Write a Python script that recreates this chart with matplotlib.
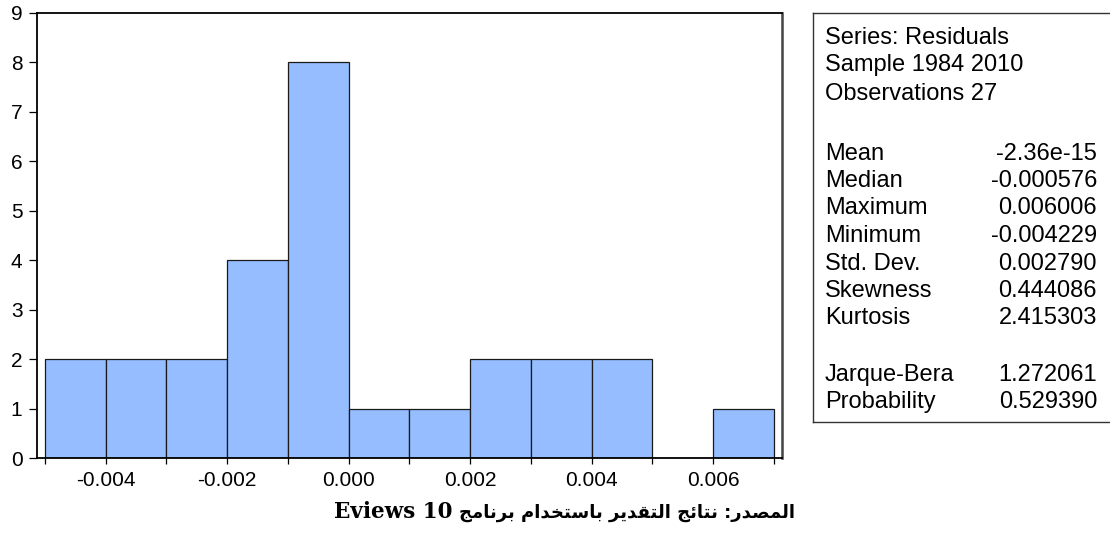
import matplotlib
matplotlib.use("Agg")
import matplotlib.pyplot as plt

# ---- data ----
bin_left = [-0.005, -0.004, -0.003, -0.002, -0.001, 0.000,
            0.001, 0.002, 0.003, 0.004, 0.005, 0.006]
counts = [2, 2, 2, 4, 8, 1, 1, 2, 2, 2, 0, 1]
bin_width = 0.001
xtick_pos = [-0.005, -0.004, -0.003, -0.002, -0.001, 0.000, 0.001,
             0.002, 0.003, 0.004, 0.005, 0.006, 0.007]
xtick_lab = ["", "-0.004", "", "-0.002", "", "0.000", "",
             "0.002", "", "0.004", "", "0.006", ""]
ytick_pos = [0, 1, 2, 3, 4, 5, 6, 7, 8, 9]

header_lines = ["Series: Residuals", "Sample 1984 2010", "Observations 27"]
stat_names = ["Mean", "Median", "Maximum", "Minimum", "Std. Dev.",
              "Skewness", "Kurtosis"]
stat_values = ["-2.36e-15", "-0.000576", "0.006006", "-0.004229",
               "0.002790", "0.444086", "2.415303"]
test_names = ["Jarque-Bera", "Probability"]
test_values = ["1.272061", "0.529390"]

caption_words = ["المصدر:", "نتائج", "التقدير", "باستخدام", "برنامج"]
caption_tail = ["10", "Eviews"]

# ---- minimal Arabic shaping (presentation forms) ----
FORMS = {
    "ا": ("\uFE8D", "\uFE8E"),
    "د": ("\uFEA9", "\uFEAA"),
    "ر": ("\uFEAD", "\uFEAE"),
    "ب": ("\uFE8F", "\uFE90", "\uFE91", "\uFE92"),
    "ت": ("\uFE95", "\uFE96", "\uFE97", "\uFE98"),
    "ج": ("\uFE9D", "\uFE9E", "\uFE9F", "\uFEA0"),
    "خ": ("\uFEA5", "\uFEA6", "\uFEA7", "\uFEA8"),
    "س": ("\uFEB1", "\uFEB2", "\uFEB3", "\uFEB4"),
    "ص": ("\uFEB9", "\uFEBA", "\uFEBB", "\uFEBC"),
    "ق": ("\uFED5", "\uFED6", "\uFED7", "\uFED8"),
    "ل": ("\uFEDD", "\uFEDE", "\uFEDF", "\uFEE0"),
    "م": ("\uFEE1", "\uFEE2", "\uFEE3", "\uFEE4"),
    "ن": ("\uFEE5", "\uFEE6", "\uFEE7", "\uFEE8"),
    "ي": ("\uFEF1", "\uFEF2", "\uFEF3", "\uFEF4"),
    "ئ": ("\uFE89", "\uFE8A", "\uFE8B", "\uFE8C"),
}


def shape_word(w):
    out = []
    for i, c in enumerate(w):
        if c not in FORMS:
            out.append(c)
            continue
        prev = w[i - 1] if i > 0 else None
        nxt = w[i + 1] if i < len(w) - 1 else None
        f = FORMS[c]
        jp = prev in FORMS and len(FORMS[prev]) == 4
        jn = nxt in FORMS and len(f) == 4
        if jp and jn:
            g = f[3]
        elif jp:
            g = f[1]
        elif jn:
            g = f[2]
        else:
            g = f[0]
        out.append(g)
    return "".join(reversed(out))


latin_visual = " ".join(reversed(caption_tail))
arabic_visual = " ".join(shape_word(w) for w in reversed(caption_words))

# ---- figure ----
W, H = 1110, 536
fig = plt.figure(figsize=(W / 100, H / 100), dpi=100)
plt.rcParams["font.family"] = ["Liberation Sans", "DejaVu Sans"]

ax = fig.add_axes([37 / W, 1 - 458 / H, (782 - 37) / W, (458 - 13) / H])
ax.bar(bin_left, counts, width=bin_width, align="edge",
       color="#95BDFF", edgecolor="#1a1a1a", linewidth=0.9, zorder=2)
ax.set_xlim(-0.005131, 0.007133)
ax.set_ylim(0, 9)
ax.set_xticks(xtick_pos)
ax.set_xticklabels(xtick_lab)
ax.set_yticks(ytick_pos)
ax.set_yticklabels([str(v) for v in ytick_pos])
ax.tick_params(axis="x", direction="out", length=4.5, width=0.9,
               pad=5, labelsize=15, colors="black")
ax.tick_params(axis="y", direction="out", length=5.5, width=0.9,
               pad=5, labelsize=15, colors="black")
for side in ["left", "bottom", "top"]:
    ax.spines[side].set_color("black")
    ax.spines[side].set_linewidth(1.3)
ax.spines["right"].set_color("#444444")
ax.spines["right"].set_linewidth(1.8)

# ---- stats box (pixel coordinates) ----
bx = fig.add_axes([813 / W, 1 - 422 / H, (1112 - 813) / W, (422 - 13) / H])
bx.set_xlim(813, 1112)
bx.set_ylim(422, 13)
bx.set_xticks([])
bx.set_yticks([])
for s in bx.spines.values():
    s.set_color("#333333")
    s.set_linewidth(1.0)

fs = 17
header_base = [44, 71.5, 99.5]
stat_base = [160, 187, 214.5, 242, 269.5, 297, 324.5]
test_base = [381, 408]
lx, rx = 825, 1097
for t, y in zip(header_lines, header_base):
    bx.text(lx, y, t, fontsize=fs, va="baseline", ha="left")
for t, v, y in zip(stat_names, stat_values, stat_base):
    bx.text(lx, y, t, fontsize=fs, va="baseline", ha="left")
    bx.text(rx, y, v, fontsize=fs, va="baseline", ha="right")
for t, v, y in zip(test_names, test_values, test_base):
    bx.text(lx, y, t, fontsize=fs, va="baseline", ha="left")
    bx.text(rx, y, v, fontsize=fs, va="baseline", ha="right")

# ---- caption (Arabic part right, Latin part placed just left of it) ----
cap_base = 1 - 518 / H
t_ar = fig.text(795 / W, cap_base, arabic_visual, fontsize=13,
                fontweight="bold", ha="right", va="baseline",
                family=["DejaVu Sans"])
renderer = fig.canvas.get_renderer()
ar_left = t_ar.get_window_extent(renderer).x0
fig.text((ar_left - 7) / W, cap_base, latin_visual, fontsize=15.5,
         fontweight="bold", ha="right", va="baseline",
         family=["DejaVu Serif", "DejaVu Sans"])

fig.savefig("out.png", dpi=100)
